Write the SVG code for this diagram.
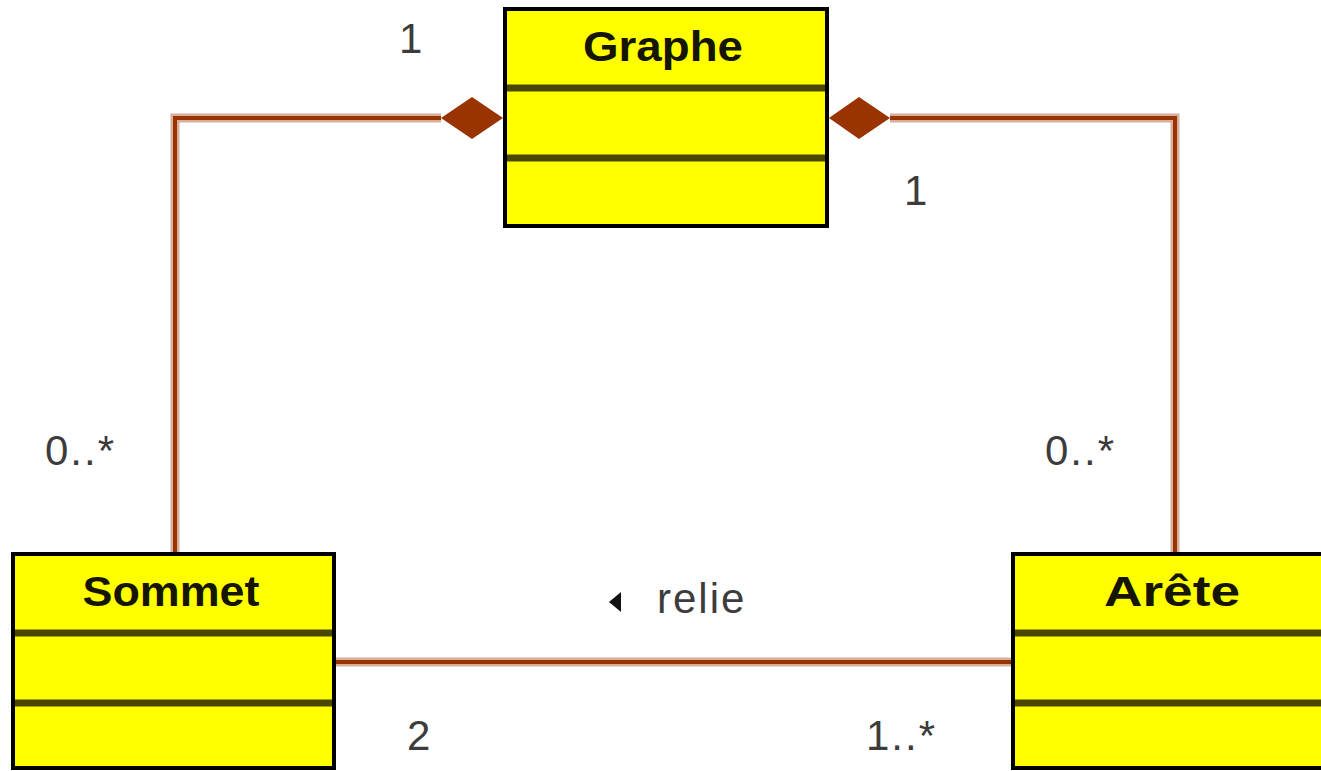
<svg xmlns="http://www.w3.org/2000/svg" width="1321" height="771" viewBox="0 0 1321 771">
  <style>
    .cls { fill: #ffff00; stroke: #000; stroke-width: 4; }
    .sep { stroke: #4a4700; stroke-width: 7; }
    .name { font-family: "Liberation Sans", Arial, sans-serif; font-weight: bold; font-size: 43px; fill: #151500; text-anchor: middle; }
    .lbl { font-family: "Liberation Sans", Arial, sans-serif; font-size: 42px; fill: #3c3c3c; letter-spacing: 2px; }
    .halo { fill: none; stroke: #d8ad9c; stroke-width: 9; }
    .wire { fill: none; stroke: #993300; stroke-width: 4; }
    .dia { fill: #993300; }
  </style>
  <rect width="1321" height="771" fill="#fff"/>

  <g id="connectors">
    <!-- Graphe ◆— Sommet -->
    <path class="halo" d="M175,552 V118 H441"/>
    <path class="wire" d="M175,552 V118 H441"/>
    <polygon class="dia" points="441,118 472,97 503,118 472,139"/>
    <!-- Graphe ◆— Arête -->
    <path class="halo" d="M890,118 H1175 V552"/>
    <path class="wire" d="M890,118 H1175 V552"/>
    <polygon class="dia" points="829,118 859,97 890,118 859,139"/>
    <!-- relie -->
    <path class="halo" d="M336,662 H1011"/>
    <path class="wire" d="M336,662 H1011"/>
  </g>

  <g id="graphe">
    <rect class="cls" x="505" y="9" width="322" height="217"/>
    <line class="sep" x1="507" y1="88" x2="825" y2="88"/>
    <line class="sep" x1="507" y1="158" x2="825" y2="158"/>
    <text class="name" x="663" y="61" textLength="160" lengthAdjust="spacingAndGlyphs">Graphe</text>
  </g>

  <g id="sommet">
    <rect class="cls" x="13" y="554" width="321" height="214"/>
    <line class="sep" x1="15" y1="633" x2="332" y2="633"/>
    <line class="sep" x1="15" y1="703" x2="332" y2="703"/>
    <text class="name" x="171" y="606" textLength="177" lengthAdjust="spacingAndGlyphs">Sommet</text>
  </g>

  <g id="arete">
    <rect class="cls" x="1013" y="554" width="330" height="214"/>
    <line class="sep" x1="1015" y1="633" x2="1330" y2="633"/>
    <line class="sep" x1="1015" y1="703" x2="1330" y2="703"/>
    <text class="name" x="1172" y="606" textLength="136" lengthAdjust="spacingAndGlyphs">Arête</text>
  </g>

  <g id="labels">
    <text class="lbl" x="399" y="53">1</text>
    <text class="lbl" x="904" y="205">1</text>
    <text class="lbl" x="45" y="465">0..*</text>
    <text class="lbl" x="1045" y="465">0..*</text>
    <polygon points="609,602 621,592 621,612" fill="#111"/>
    <text class="lbl" x="657" y="613">relie</text>
    <text class="lbl" x="407" y="750">2</text>
    <text class="lbl" x="866" y="750">1..*</text>
  </g>
</svg>
